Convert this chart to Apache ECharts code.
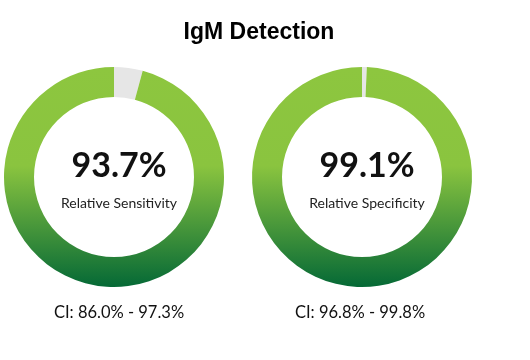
<!DOCTYPE html>
<html>
<head>
<meta charset="utf-8">
<script src="https://cdn.jsdelivr.net/npm/echarts@6/dist/echarts.min.js"></script>
<style>html,body{margin:0;padding:0;background:#fff}#c{width:530px;height:360px}</style>
</head>
<body>
<div id="c"></div>
<script>
const chartTitle = "IgM Detection";
const metrics = ["Relative Sensitivity", "Relative Specificity"];
const values = [93.7, 99.1];
// ring shares as drawn in the picture (green part / grey gap)
const ringGreen = [95.8, 99.3];
const ringGrey = [4.2, 0.7];
const ciTexts = ["CI: 86.0% - 97.3%", "CI: 96.8% - 99.8%"];

const centers = [[114, 177], [362, 177]];
const ciX = [114, 355];

const grad = new echarts.graphic.LinearGradient(0, 0, 0, 1, [
  {offset: 0, color: '#8dc63f'},
  {offset: 0.45, color: '#8ac43f'},
  {offset: 1, color: '#056936'}
]);

const series = values.map((v, i) => ({
  type: 'pie',
  center: centers[i],
  radius: [80, 110],
  startAngle: 90,
  clockwise: true,
  silent: true,
  label: {show: false},
  labelLine: {show: false},
  itemStyle: {borderWidth: 0},
  data: [
    {value: ringGrey[i], itemStyle: {color: '#e6e6e6'}},
    {value: ringGreen[i], itemStyle: {color: grad}}
  ]
}));

const titles = [{
  text: chartTitle, left: 254, top: 16, textAlign: 'center',
  textStyle: {fontFamily: 'Liberation Sans, Arial', fontWeight: 'bold', fontSize: 23, color: '#000'}
}];
values.forEach((v, i) => {
  titles.push({
    text: v.toFixed(1) + '%', left: centers[i][0], top: centers[i][1] - 16, textAlign: 'center', textVerticalAlign: 'middle',
    textStyle: {fontFamily: 'Lato', fontWeight: 'bold', fontSize: 34, color: '#111'}
  });
  titles.push({
    text: metrics[i], left: centers[i][0], top: centers[i][1] + 21, textAlign: 'center', textVerticalAlign: 'middle',
    textStyle: {fontFamily: 'Lato', fontWeight: 'normal', fontSize: 14, color: '#222'}
  });
  titles.push({
    text: ciTexts[i], left: ciX[i], top: 308, textAlign: 'center', textVerticalAlign: 'middle',
    textStyle: {fontFamily: 'Lato', fontWeight: 'normal', fontSize: 16.5, color: '#111'}
  });
});

const chart = echarts.init(document.getElementById('c'));
chart.setOption({
  animation: false,
  title: titles,
  series: series
});
</script>
</body>
</html>
